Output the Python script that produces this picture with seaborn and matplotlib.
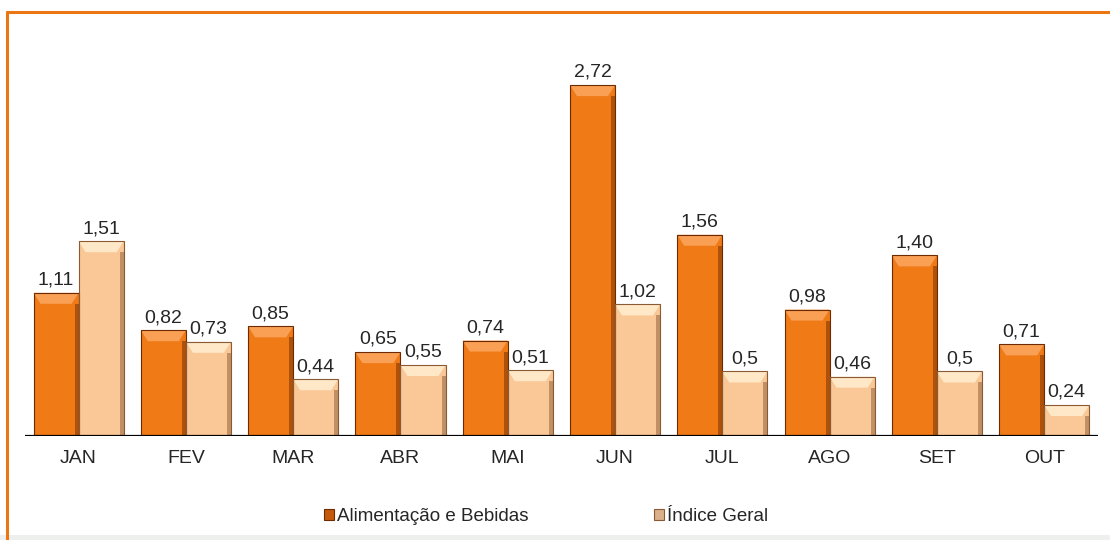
import pandas as pd
import seaborn as sns
import matplotlib.pyplot as plt
from matplotlib.lines import Line2D
from matplotlib.patches import Polygon, Rectangle

meses = ['JAN', 'FEV', 'MAR', 'ABR', 'MAI', 'JUN', 'JUL', 'AGO', 'SET', 'OUT']
alimentacao = [1.11, 0.82, 0.85, 0.65, 0.74, 2.72, 1.56, 0.98, 1.40, 0.71]
indice_geral = [1.51, 0.73, 0.44, 0.55, 0.51, 1.02, 0.50, 0.46, 0.50, 0.24]
rotulos_alim = ['1,11', '0,82', '0,85', '0,65', '0,74', '2,72', '1,56', '0,98', '1,40', '0,71']
rotulos_ind = ['1,51', '0,73', '0,44', '0,55', '0,51', '1,02', '0,5', '0,46', '0,5', '0,24']

series = ['Alimentação e Bebidas', 'Índice Geral']
cores = ['#F07A16', '#FAC896']
bordas = ['#6E2A00', '#8A5A35']
topos = ['#F9A055', '#FFE8C8']

df = pd.DataFrame({
    'mes': meses * 2,
    'valor': alimentacao + indice_geral,
    'serie': [series[0]] * len(meses) + [series[1]] * len(meses),
})

sns.set_style('white')
plt.rcParams['font.family'] = ['Liberation Sans', 'DejaVu Sans']

fig = plt.figure(figsize=(11.1, 5.4), dpi=100)
ax = fig.add_axes([0.0225, 0.1926, 0.9665, 0.7167])

sns.barplot(data=df, x='mes', y='valor', hue='serie', order=meses,
            hue_order=series, palette=cores, saturation=1, width=0.84, gap=0,
            edgecolor='none', linewidth=0, ax=ax, legend=False)

ax.set_xlim(-0.5, len(meses) - 0.5)
ax.set_ylim(0, 3.0)

# bevel look on each bar
px_x = 1 / 107.3
px_y = 3.0 / 387
for cont, borda, topo in zip(ax.containers, bordas, topos):
    for p in cont.patches:
        x, w, h = p.get_x(), p.get_width(), p.get_height()
        bx, by = 7 * px_x, min(11 * px_y, h / 2)
        ax.add_patch(Polygon([(x, h), (x + w, h), (x + w - bx, h - by), (x + bx, h - by)],
                             closed=True, facecolor=topo, edgecolor='none', zorder=3))
        ax.add_patch(Rectangle((x + w - 4 * px_x, 0), 4 * px_x, h - by,
                               facecolor=borda, alpha=0.5, edgecolor='none', zorder=3))
        ax.add_patch(Rectangle((x, 0), w, h, facecolor='none', edgecolor=borda,
                               linewidth=0.8, zorder=4))

ax.bar_label(ax.containers[0], labels=rotulos_alim, padding=3, fontsize=14)
ax.bar_label(ax.containers[1], labels=rotulos_ind, padding=3, fontsize=14)

ax.axhline(0, color='black', linewidth=1.6, zorder=5)
sns.despine(ax=ax, left=True, bottom=True, top=True, right=True)
ax.set_yticks([])
ax.set_xlabel('')
ax.set_ylabel('')
ax.tick_params(axis='x', length=0, labelsize=14, pad=10)

handles = [Rectangle((0, 0), 1, 1, facecolor=c, edgecolor=b, linewidth=0.8)
           for c, b in zip(['#C55A0C', '#D9B08A'], bordas)]
fig.legend(handles, series, loc='center', bbox_to_anchor=(0.492, 0.043), ncol=2,
           frameon=False, fontsize=13.5, handlelength=0.55, handleheight=0.55,
           handletextpad=0.15, columnspacing=6.7)

# orange frame visible only on top and left
fig.lines.append(Line2D([0.0063, 1.0], [0.978, 0.978], transform=fig.transFigure,
                        color='#EC7514', linewidth=2.2))
fig.lines.append(Line2D([0.0063, 0.0063], [0.0, 0.978], transform=fig.transFigure,
                        color='#EC7514', linewidth=2.2))
fig.patches.append(Rectangle((0.0, 0.0), 1.0, 0.01, transform=fig.transFigure,
                             facecolor='#EEF0EE', edgecolor='none'))

fig.savefig('out.png', dpi=100)
